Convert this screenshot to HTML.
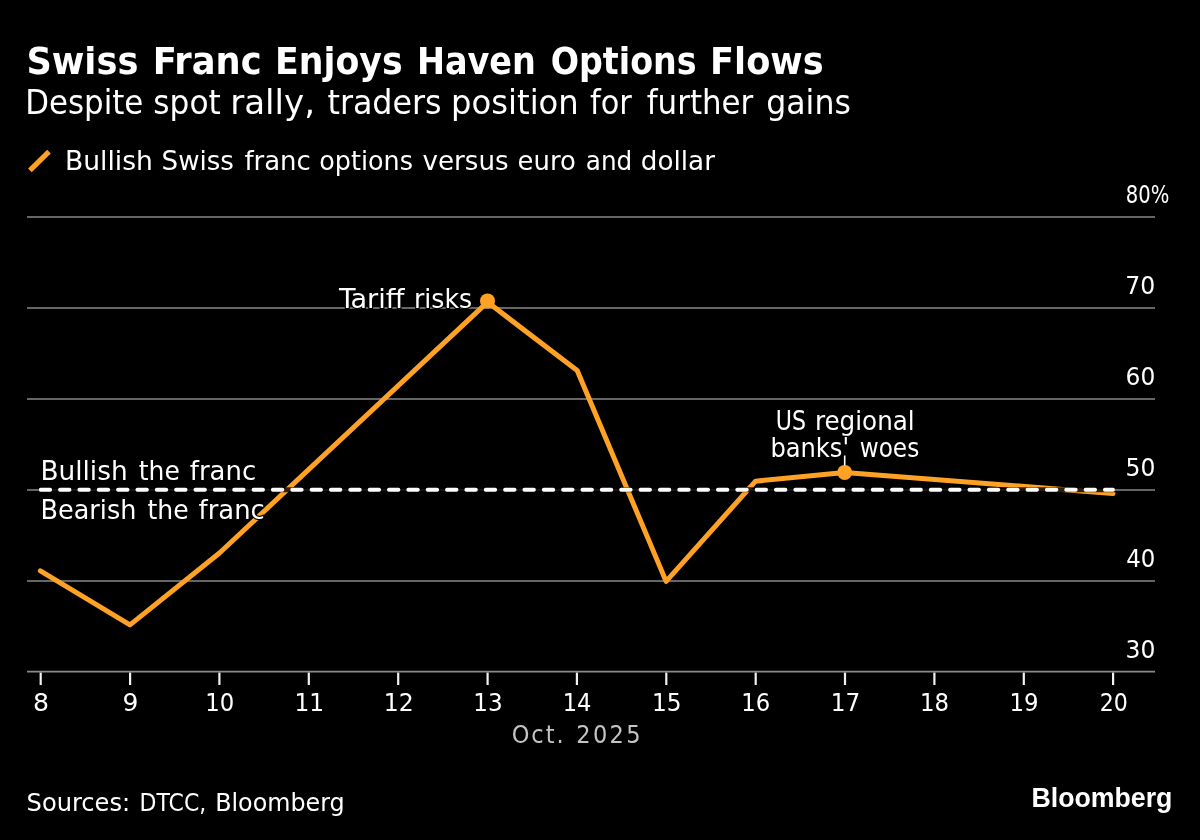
<!DOCTYPE html>
<html lang="en">
<head>
<meta charset="utf-8">
<title>Swiss Franc Enjoys Haven Options Flows</title>
<style>
html,body{margin:0;padding:0;background:#000;}
body{width:1200px;height:840px;overflow:hidden;}
svg{display:block;will-change:transform;}
text{font-family:"DejaVu Sans Condensed","DejaVu Sans","Liberation Sans",sans-serif;fill:#fff;white-space:pre;}
.b{font-family:"DejaVu Sans Condensed","DejaVu Sans","Liberation Sans",sans-serif;font-weight:bold;}
.halo{paint-order:stroke;stroke:#000;stroke-width:2.4px;stroke-linejoin:round;}
.mono{fill:#c4c4c4;}
.logo{font-family:"Liberation Sans",sans-serif;font-weight:bold;}
</style>
</head>
<body>
<svg width="1200" height="840" viewBox="0 0 1200 840">
<rect width="1200" height="840" fill="#000"/>
<!-- header -->
<text y="73.6" font-size="37.2" class="b"><tspan x="26.47" textLength="111.89" lengthAdjust="spacingAndGlyphs">Swiss</tspan> <tspan x="152.78" textLength="108.88" lengthAdjust="spacingAndGlyphs">Franc</tspan> <tspan x="275.14" textLength="127.52" lengthAdjust="spacingAndGlyphs">Enjoys</tspan> <tspan x="416.95" textLength="118.99" lengthAdjust="spacingAndGlyphs">Haven</tspan> <tspan x="550.66" textLength="145.91" lengthAdjust="spacingAndGlyphs">Options</tspan> <tspan x="710.10" textLength="113.55" lengthAdjust="spacingAndGlyphs">Flows</tspan></text>
<text y="113.9" font-size="33.4"><tspan x="25.27" textLength="118.06" lengthAdjust="spacingAndGlyphs">Despite</tspan> <tspan x="153.28" textLength="67.49" lengthAdjust="spacingAndGlyphs">spot</tspan> <tspan x="230.24" textLength="84.78" lengthAdjust="spacingAndGlyphs">rally,</tspan> <tspan x="327.46" textLength="114.08" lengthAdjust="spacingAndGlyphs">traders</tspan> <tspan x="451.10" textLength="127.65" lengthAdjust="spacingAndGlyphs">position</tspan> <tspan x="589.99" textLength="41.80" lengthAdjust="spacingAndGlyphs">for</tspan> <tspan x="646.78" textLength="106.49" lengthAdjust="spacingAndGlyphs">further</tspan> <tspan x="766.27" textLength="84.55" lengthAdjust="spacingAndGlyphs">gains</tspan></text>
<!-- legend -->
<line x1="29.9" y1="170.35" x2="49" y2="151.55" stroke="#fea125" stroke-width="5.2"/>
<text y="170.2" font-size="27.4"><tspan x="65.01" textLength="87.90" lengthAdjust="spacingAndGlyphs">Bullish</tspan> <tspan x="161.55" textLength="72.42" lengthAdjust="spacingAndGlyphs">Swiss</tspan> <tspan x="244.42" textLength="66.44" lengthAdjust="spacingAndGlyphs">franc</tspan> <tspan x="319.31" textLength="93.62" lengthAdjust="spacingAndGlyphs">options</tspan> <tspan x="422.51" textLength="86.06" lengthAdjust="spacingAndGlyphs">versus</tspan> <tspan x="517.58" textLength="58.14" lengthAdjust="spacingAndGlyphs">euro</tspan> <tspan x="585.80" textLength="46.44" lengthAdjust="spacingAndGlyphs">and</tspan> <tspan x="640.86" textLength="74.10" lengthAdjust="spacingAndGlyphs">dollar</tspan></text>
<!-- grid -->
<g stroke="#666666" stroke-width="2">
<line x1="27" y1="216.9" x2="1155" y2="216.9"/>
<line x1="27" y1="307.9" x2="1155" y2="307.9"/>
<line x1="27" y1="398.9" x2="1155" y2="398.9"/>
<line x1="27" y1="489.9" x2="1155" y2="489.9"/>
<line x1="27" y1="580.9" x2="1155" y2="580.9"/>
</g>
<line x1="27" y1="671.6" x2="1155" y2="671.6" stroke="#8a8a8a" stroke-width="1.7"/>
<!-- y axis labels -->
<text y="203.1" font-size="25"><tspan x="1125.75" textLength="43.53" lengthAdjust="spacingAndGlyphs">80%</tspan></text>
<text y="294.1" font-size="25"><tspan x="1125.36" textLength="29.97" lengthAdjust="spacingAndGlyphs">70</tspan></text>
<text y="385.1" font-size="25"><tspan x="1125.64" textLength="29.68" lengthAdjust="spacingAndGlyphs">60</tspan></text>
<text y="476.1" font-size="25"><tspan x="1125.47" textLength="29.86" lengthAdjust="spacingAndGlyphs">50</tspan></text>
<text y="567.1" font-size="25"><tspan x="1126.18" textLength="29.11" lengthAdjust="spacingAndGlyphs">40</tspan></text>
<text y="658.1" font-size="25"><tspan x="1125.53" textLength="29.80" lengthAdjust="spacingAndGlyphs">30</tspan></text>
<!-- x axis -->
<g stroke="#f2f2f2" stroke-width="2.2">
<line x1="40.7" y1="672.6" x2="40.7" y2="685"/>
<line x1="130.1" y1="672.6" x2="130.1" y2="685"/>
<line x1="219.4" y1="672.6" x2="219.4" y2="685"/>
<line x1="308.8" y1="672.6" x2="308.8" y2="685"/>
<line x1="398.2" y1="672.6" x2="398.2" y2="685"/>
<line x1="487.6" y1="672.6" x2="487.6" y2="685"/>
<line x1="576.9" y1="672.6" x2="576.9" y2="685"/>
<line x1="666.3" y1="672.6" x2="666.3" y2="685"/>
<line x1="755.7" y1="672.6" x2="755.7" y2="685"/>
<line x1="845.0" y1="672.6" x2="845.0" y2="685"/>
<line x1="934.4" y1="672.6" x2="934.4" y2="685"/>
<line x1="1023.8" y1="672.6" x2="1023.8" y2="685"/>
<line x1="1113.1" y1="672.6" x2="1113.1" y2="685"/>
</g>
<text y="711.2" font-size="25"><tspan x="32.96" textLength="16.02" lengthAdjust="spacingAndGlyphs">8</tspan></text>
<text y="711.2" font-size="25"><tspan x="122.52" textLength="15.88" lengthAdjust="spacingAndGlyphs">9</tspan></text>
<text y="711.2" font-size="25"><tspan x="205.16" textLength="29.02" lengthAdjust="spacingAndGlyphs">10</tspan></text>
<text y="711.2" font-size="25"><tspan x="294.47" textLength="29.68" lengthAdjust="spacingAndGlyphs">11</tspan></text>
<text y="711.2" font-size="25"><tspan x="383.82" textLength="29.93" lengthAdjust="spacingAndGlyphs">12</tspan></text>
<text y="711.2" font-size="25"><tspan x="473.23" textLength="29.38" lengthAdjust="spacingAndGlyphs">13</tspan></text>
<text y="711.2" font-size="25"><tspan x="562.66" textLength="28.73" lengthAdjust="spacingAndGlyphs">14</tspan></text>
<text y="711.2" font-size="25"><tspan x="651.96" textLength="29.56" lengthAdjust="spacingAndGlyphs">15</tspan></text>
<text y="711.2" font-size="25"><tspan x="741.39" textLength="28.90" lengthAdjust="spacingAndGlyphs">16</tspan></text>
<text y="711.2" font-size="25"><tspan x="830.70" textLength="29.50" lengthAdjust="spacingAndGlyphs">17</tspan></text>
<text y="711.2" font-size="25"><tspan x="920.12" textLength="29.02" lengthAdjust="spacingAndGlyphs">18</tspan></text>
<text y="711.2" font-size="25"><tspan x="1009.48" textLength="29.08" lengthAdjust="spacingAndGlyphs">19</tspan></text>
<text y="711.2" font-size="25"><tspan x="1099.72" textLength="28.11" lengthAdjust="spacingAndGlyphs">20</tspan></text>
<text y="742.9" font-size="25" class="mono"><tspan x="511.65" letter-spacing="1.98">Oct.</tspan> <tspan x="576.15" letter-spacing="2.43">2025</tspan></text>
<!-- series -->
<polyline fill="none" stroke="#fea125" stroke-width="5" stroke-linecap="round" stroke-linejoin="round" points="40.4,570.9 130,624.9 219.5,553 487.5,302.1 577.2,370.5 666.1,581.4 755.6,481.2 844.7,472.4 1113,493.5"/>
<!-- 50 threshold -->
<line x1="38.7" y1="489.8" x2="1115" y2="489.8" stroke="#000" stroke-opacity="0.8" stroke-width="5"/>
<path d="M40.7 489.8H1113" fill="none" stroke="#fff" stroke-width="4" stroke-dasharray="9.4 9.95" stroke-linecap="round"/>
<!-- annotations -->
<circle cx="487.5" cy="300.9" r="7.5" fill="#fea125"/>
<circle cx="844.7" cy="472.4" r="7.5" fill="#fea125"/>
<line x1="844.7" y1="455.5" x2="844.7" y2="465.5" stroke="#fff" stroke-width="1.6"/>
<text y="308" font-size="27.4" class="halo"><tspan x="338.95" textLength="65.53" lengthAdjust="spacingAndGlyphs">Tariff</tspan> <tspan x="413.90" textLength="58.22" lengthAdjust="spacingAndGlyphs">risks</tspan></text>
<text y="429.6" font-size="27.4" class="halo"><tspan x="775.87" textLength="30.29" lengthAdjust="spacingAndGlyphs">US</tspan> <tspan x="814.95" textLength="99.76" lengthAdjust="spacingAndGlyphs">regional</tspan></text>
<text y="457" font-size="27.4" class="halo"><tspan x="770.39" textLength="78.73" lengthAdjust="spacingAndGlyphs">banks'</tspan> <tspan x="859.71" textLength="59.52" lengthAdjust="spacingAndGlyphs">woes</tspan></text>
<text y="480" font-size="27.4" class="halo"><tspan x="40.44" textLength="87.16" lengthAdjust="spacingAndGlyphs">Bullish</tspan> <tspan x="138.74" textLength="41.09" lengthAdjust="spacingAndGlyphs">the</tspan> <tspan x="189.82" textLength="66.34" lengthAdjust="spacingAndGlyphs">franc</tspan></text>
<text y="518.6" font-size="27.4" class="halo"><tspan x="40.52" textLength="95.84" lengthAdjust="spacingAndGlyphs">Bearish</tspan> <tspan x="147.44" textLength="41.19" lengthAdjust="spacingAndGlyphs">the</tspan> <tspan x="198.62" textLength="66.23" lengthAdjust="spacingAndGlyphs">franc</tspan></text>
<!-- footer -->
<text y="810.6" font-size="24.3"><tspan x="26.60" textLength="103.61" lengthAdjust="spacingAndGlyphs">Sources:</tspan> <tspan x="139.64" textLength="66.62" lengthAdjust="spacingAndGlyphs">DTCC,</tspan> <tspan x="215.16" textLength="129.41" lengthAdjust="spacingAndGlyphs">Bloomberg</tspan></text>
<text y="806.8" font-size="26.8" class="logo"><tspan x="1031.41" textLength="141.04" lengthAdjust="spacingAndGlyphs">Bloomberg</tspan></text>
</svg>
</body>
</html>
